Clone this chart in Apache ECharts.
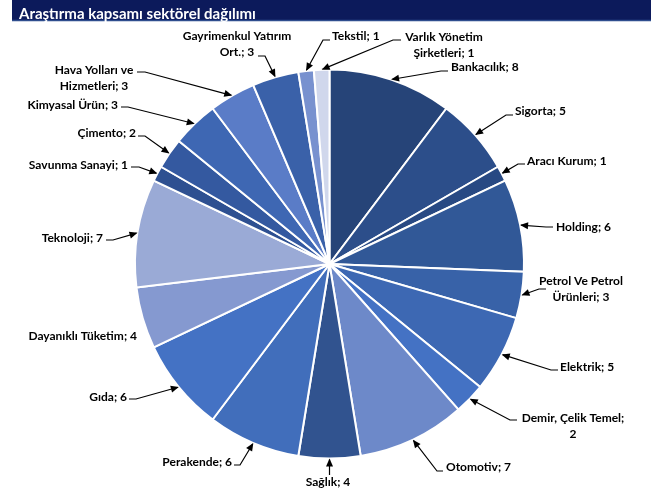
<!DOCTYPE html>
<html><head><meta charset="utf-8">
<script src="https://cdn.jsdelivr.net/npm/echarts@6/dist/echarts.min.js"></script>
<style>html,body{margin:0;padding:0;background:#fff}#c{width:664px;height:498px}</style>
</head><body><div id="c"></div>
<script>
// ---- data ----
const chartTitle = 'Araştırma kapsamı sektörel dağılımı';
const categories = ['Bankacılık', 'Sigorta', 'Aracı Kurum', 'Holding', 'Petrol Ve Petrol\nÜrünleri',
  'Elektrik', 'Demir, Çelik Temel', 'Otomotiv', 'Sağlık', 'Perakende', 'Gıda', 'Dayanıklı Tüketim',
  'Teknoloji', 'Savunma Sanayi', 'Çimento', 'Kimyasal Ürün', 'Hava Yolları ve\nHizmetleri',
  'Gayrimenkul Yatırım\nOrt.', 'Tekstil', 'Varlık Yönetim\nŞirketleri'];
const values = [8, 5, 1, 6, 3, 5, 2, 7, 4, 6, 6, 4, 7, 1, 2, 3, 3, 3, 1, 1];
const valueOnNewLine = [false, false, false, false, false, false, true, false, false, false, false, false,
  false, false, false, false, false, false, false, false];

// ---- styles / layout ----
const colors = ['#264478', '#2c4e8a', '#284983', '#315897', '#3862a8', '#3d68b3', '#4472c4', '#6d89c9',
  '#31538f', '#416ebb', '#4472c4', '#8599d0', '#9aaad6', '#2e5091', '#3459a0', '#3e67b3', '#5a7cc7',
  '#3a61a9', '#7891cf', '#d0d7ec'];
const CX = 329.5, CY = 264, R = 194.5;
// label anchor [x, y, align], line end point, elbow point (null = no line)
const labelPos = [
  [451, 67, 'left', [448, 71], [441, 71]],
  [515, 111, 'left', [513, 115], [506, 115]],
  [527, 161, 'left', [525, 164], [518, 164]],
  [556, 227, 'left', [553, 227], [546, 227]],
  [581, 289, 'center', [546, 289], [539, 289]],
  [560, 367, 'left', [558, 370], [551, 370]],
  [573, 426, 'center', [517, 420], [510, 420]],
  [446, 467, 'left', [443, 471], [437, 471]],
  [328, 482, 'center', [329.5, 475], [329.5, 474]],
  [232, 462, 'right', [234, 465], [240, 465]],
  [127, 397, 'right', [129, 399], [136, 399]],
  [137, 336, 'right', null, null],
  [103, 238, 'right', [106, 240], [113, 240]],
  [128, 165, 'right', [131, 167], [139, 167]],
  [136, 133, 'right', [138, 136], [145, 136]],
  [118, 105, 'right', [121, 107], [128, 107]],
  [94, 78, 'center', [137, 72], [145, 72]],
  [237, 44, 'center', [258, 56], [265, 56]],
  [332, 36, 'left', [330, 40], [323, 40]],
  [444, 45, 'center', [401, 40], [393, 40]]
];

const total = values.reduce((a, b) => a + b, 0);
function tipOf(i) {
  let cum = 0;
  for (let k = 0; k < i; k++) cum += values[k];
  const a = (cum + values[i] / 2) / total * 2 * Math.PI;
  return [CX + R * Math.sin(a), CY - R * Math.cos(a)];
}

const arrows = [];
labelPos.forEach((p, i) => {
  if (!p[3]) return;
  const t = tipOf(i), e = p[4];
  let dx = t[0] - e[0], dy = t[1] - e[1];
  const L = Math.hypot(dx, dy) || 1; dx /= L; dy /= L;
  const nx = -dy, ny = dx, len = 8, w = 3.5;
  arrows.push({
    type: 'polygon', z: 100, silent: true,
    shape: { points: [t, [t[0] - dx * len + nx * w, t[1] - dy * len + ny * w], [t[0] - dx * len - nx * w, t[1] - dy * len - ny * w]] },
    style: { fill: '#000' }
  });
});

const chart = echarts.init(document.getElementById('c'), null, { renderer: 'canvas' });
chart.setOption({
  animation: false,
  backgroundColor: '#fff',
  title: {
    text: chartTitle, left: 14, top: 2, z: 10,
    textStyle: { color: '#fff', fontFamily: 'Lato', fontWeight: 'bold', fontSize: 15 }
  },
  graphic: [
    { type: 'rect', z: 1, silent: true, shape: { x: 12, y: 0, width: 639, height: 20 }, style: { fill: '#0c1a5b' } },
    { type: 'line', z: 1, silent: true, shape: { x1: 12, y1: 20.5, x2: 651, y2: 20.5 }, style: { stroke: '#2f4e8e', lineWidth: 1.5 } }
  ].concat(arrows),
  series: [{
    type: 'pie',
    center: [CX, CY],
    radius: R,
    startAngle: 90,
    clockwise: true,
    avoidLabelOverlap: false,
    itemStyle: { borderColor: '#fff', borderWidth: 2 },
    label: {
      show: true, position: 'outside',
      fontFamily: 'Lato', fontWeight: 'bold', fontSize: 12, color: '#000', lineHeight: 16,
      formatter: p => p.name + ';' + (valueOnNewLine[p.dataIndex] ? '\n' : ' ') + p.value
    },
    labelLine: { show: true, lineStyle: { color: '#000', width: 1.2 } },
    labelLayout: function (params) {
      const p = labelPos[params.dataIndex];
      const out = { x: p[0], y: p[1], align: p[2], verticalAlign: 'middle' };
      if (p[3]) out.labelLinePoints = [tipOf(params.dataIndex), p[4], p[3]];
      else out.labelLinePoints = [[p[0], p[1]], [p[0], p[1]], [p[0], p[1]]];
      return out;
    },
    data: categories.map((c, i) => ({ name: c, value: values[i], itemStyle: { color: colors[i] }, labelLine: { show: !!labelPos[i][3] } }))
  }]
});
</script>
</body></html>
